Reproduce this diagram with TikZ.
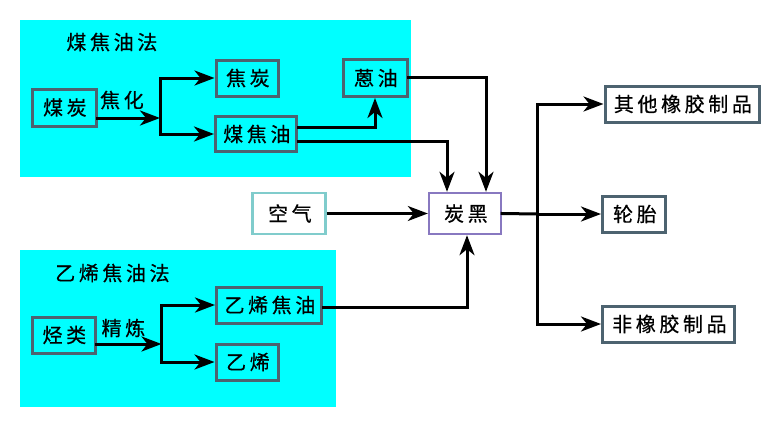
\documentclass[tikz,border=0pt]{standalone}
\usepackage{fontspec}
\newfontfamily\cjk[LetterSpace=18,FakeBold=0.6]{Noto Sans CJK SC}
\usetikzlibrary{arrows.meta}
\definecolor{panel}{HTML}{00FFFF}
\definecolor{boxline}{HTML}{4D6370}
\definecolor{airline}{HTML}{80CCCC}
\definecolor{cbline}{HTML}{8878C0}
\newcommand{\ls}{\hspace*{1.8pt}}
\tikzset{
  box/.style={draw=boxline, line width=3pt, inner sep=0pt, font=\cjk\fontsize{20}{20}\selectfont, minimum height=36pt},
  lbl/.style={inner sep=0pt, font=\cjk\fontsize{20}{20}\selectfont},
  conn/.style={line width=3pt, line cap=rect},
  arr/.style={conn, -{Stealth[length=20pt, width=15pt, inset=6pt]}},
  thinarr/.style={line width=2.4pt, -{Stealth[length=20pt, width=15pt, inset=6pt]}}
}
\begin{document}
\begin{tikzpicture}[x=1pt,y=-1pt]
\useasboundingbox (0,0) rectangle (782,424);
\fill[panel] (20,20) rectangle (411,177);
\fill[panel] (20,250) rectangle (336,407);

\node[lbl] (t1) at (111,42) {\ls{}煤焦油法};
\node[lbl] (t2) at (111.5,273) {\ls{}乙烯焦油法};

\node[box, minimum width=64pt, minimum height=37pt] (mt) at (64,107.5) {\ls{}煤炭};
\node[lbl] (jh) at (121,100) {\ls{}焦化};
\node[box, minimum width=62pt] (jt) at (247,78) {\ls{}焦炭};
\node[box, minimum width=81pt, minimum height=35pt] (mjy) at (256,134) {\ls{}煤焦油};
\node[box, minimum width=64pt, minimum height=37pt] (yy) at (375,78) {\ls{}蒽油};

\node[box, minimum width=63pt] (tl) at (63.5,335) {\ls{}烃类};
\node[lbl] (jl) at (122.5,328) {\ls{}精炼};
\node[box, minimum width=105pt] (yjy) at (269,305) {\ls{}乙烯焦油};
\node[box, minimum width=62pt] (yx) at (247,362) {\ls{}乙烯};

\node[box, draw=airline, line width=2.4pt, minimum width=73pt, minimum height=41pt] (kq) at (289,213.5) {\ls{}空气};
\node[box, draw=cbline, line width=2.4pt, minimum width=72pt, minimum height=41pt] (tb) at (465,213.5) {\ls{}炭黑};

\node[box, minimum width=154pt] (qt) at (682,104) {\ls{}其他橡胶制品};
\node[box, minimum width=63pt] (lt) at (634,214) {\ls{}轮胎};
\node[box, minimum width=132pt] (fx) at (668.5,324) {\ls{}非橡胶制品};

% coal tar branch
\coordinate (b1) at (160,118);
\draw[arr] (mt.east |- b1) -- (b1);
\draw[conn] (b1 |- jt.west) -- (b1 |- mjy.west);
\draw[arr] (b1 |- jt.west) -- (jt.west);
\draw[arr] (b1 |- mjy.west) -- (mjy.west);
\draw[arr] ([yshift=7pt]mjy.east) -| (yy.south);
\draw[arr] ([yshift=-7pt]mjy.east) -| ([xshift=-18pt]tb.north);
\draw[arr] ([yshift=1pt]yy.east) -| ([xshift=21pt]tb.north);

% ethylene branch
\coordinate (b2) at (161.5,344);
\draw[arr] (tl.east |- b2) -- (b2);
\draw[conn] (b2 |- yjy.west) -- (b2 |- yx.west);
\draw[arr] (b2 |- yjy.west) -- (yjy.west);
\draw[arr] (b2 |- yx.west) -- (yx.west);
\draw[arr] ([yshift=-2pt]yjy.east) -| ([xshift=2pt]tb.south);

% air
\draw[thinarr] (kq) -- (tb);

% products
\coordinate (b3) at (537,214);
\draw[conn] (tb.east) -- (b3);
\draw[arr] (b3) -- (lt.west);
\draw[arr] (b3) |- (qt.west);
\draw[arr] (b3) |- (fx.west);
\end{tikzpicture}
\end{document}
